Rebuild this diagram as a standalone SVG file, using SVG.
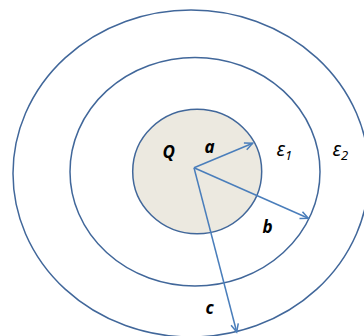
<svg xmlns="http://www.w3.org/2000/svg" width="364" height="336" viewBox="0 0 364 336">
<defs>
<style>
.ring{fill:none;stroke:#41679a;stroke-width:1.5}
.core{fill:#ecE9e0;stroke:#41679a;stroke-width:1.5}
.arr{fill:none;stroke:#4a7ebb;stroke-width:1.5;marker-end:url(#ah)}
.lbl{font-family:"Noto Sans","Liberation Sans",sans-serif;font-weight:bold;font-style:italic;font-size:17px;fill:#000}
.eps{font-family:"Noto Sans","Liberation Sans",sans-serif;font-style:italic;font-size:20px;fill:#000}
.sub{font-size:13px}
</style>
<marker id="ah" markerUnits="userSpaceOnUse" markerWidth="12" markerHeight="12" refX="9" refY="4.5" orient="auto">
<path d="M1,0.8 L9,4.5 L1,8.2" fill="none" stroke="#4a7ebb" stroke-width="1.5"/>
</marker>
</defs>
<g id="outer"><ellipse class="ring" cx="191" cy="173.5" rx="178" ry="163.5"/></g>
<g id="middle"><ellipse class="ring" cx="195" cy="171.7" rx="125" ry="114.3"/></g>
<g id="core"><ellipse class="core" cx="197.2" cy="171.5" rx="64.5" ry="62.2"/></g>
<g id="connectors">
<line class="arr" x1="194" y1="167.7" x2="252.7" y2="143.3"/>
<line class="arr" x1="194" y1="167.7" x2="308.3" y2="218.3"/>
<line class="arr" x1="194" y1="167.7" x2="236.7" y2="332"/>
</g>
<g id="labels">
<text class="lbl" x="162.5" y="157.5">Q</text>
<text class="lbl" x="204.5" y="152.5">a</text>
<text class="lbl" x="262.5" y="233.3">b</text>
<text class="lbl" x="205.5" y="314.3">c</text>
<text class="eps" x="276.5" y="156">ε<tspan class="sub" dy="4">1</tspan></text>
<text class="eps" x="332.5" y="156">ε<tspan class="sub" dy="4">2</tspan></text>
</g>
</svg>
